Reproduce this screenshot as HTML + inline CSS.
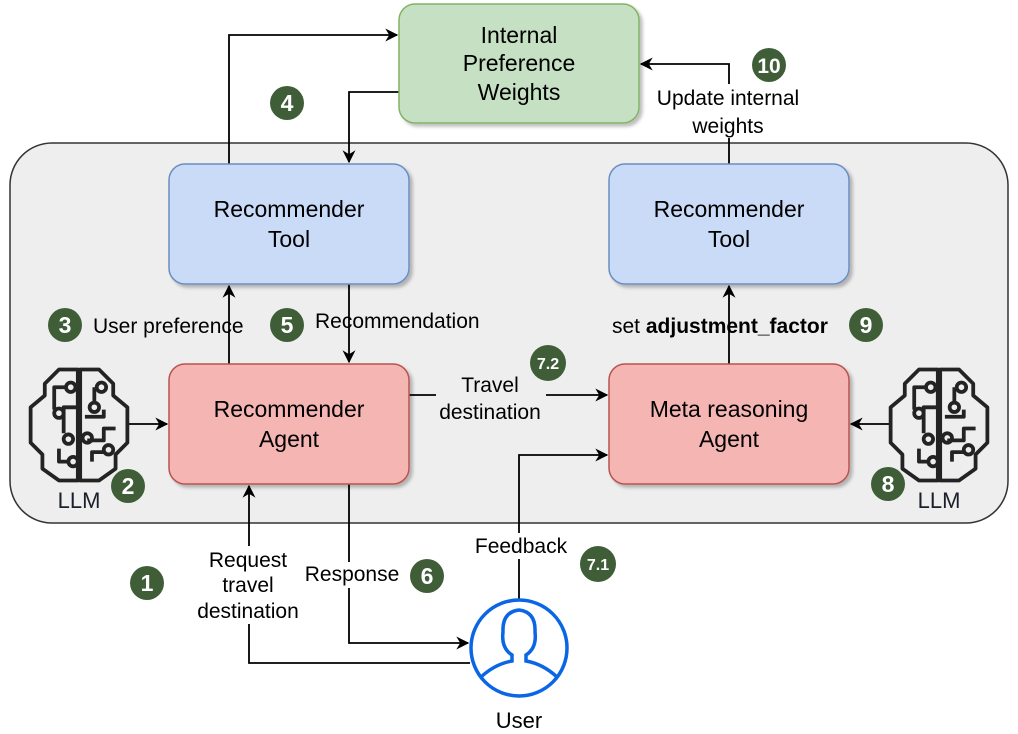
<!DOCTYPE html>
<html><head><meta charset="utf-8"><style>
html,body{margin:0;padding:0;background:#fff;}
svg{display:block;font-family:"Liberation Sans",Arial,sans-serif;}
</style></head><body>
<svg width="1018" height="734" viewBox="0 0 1018 734" xmlns="http://www.w3.org/2000/svg">
<defs>
<marker id="a" viewBox="0 0 10 10" refX="9" refY="5" markerWidth="15" markerHeight="13" markerUnits="userSpaceOnUse" orient="auto">
<path d="M0,0 L10,5 L0,10 L3,5 Z" fill="#000"/></marker>
<filter id="s" x="-10%" y="-10%" width="130%" height="130%"><feDropShadow dx="3" dy="3" stdDeviation="1.5" flood-color="#000" flood-opacity="0.25"/></filter>
</defs>
<rect x="10" y="143" width="998" height="380" rx="42" fill="#eeeeee" stroke="#333" stroke-width="1.5"/>
<g stroke="#000" stroke-width="1.8" fill="none">
<path d="M229,164 V35 H397" marker-end="url(#a)"/>
<path d="M399,92 H349 V162" marker-end="url(#a)"/>
<path d="M229,364 V286" marker-end="url(#a)"/>
<path d="M349,284 V362" marker-end="url(#a)"/>
<path d="M409,395 H607" marker-end="url(#a)"/>
<path d="M519,600 V455 H607" marker-end="url(#a)"/>
<path d="M729,364 V286" marker-end="url(#a)"/>
<path d="M729,164 V64 H641" marker-end="url(#a)"/>
<path d="M128,424 H167" marker-end="url(#a)"/>
<path d="M890,424 H851" marker-end="url(#a)"/>
<path d="M349,484 V643 H468" marker-end="url(#a)"/>
<path d="M470,663 H249 V486" marker-end="url(#a)"/>
</g>
<g filter="url(#s)" stroke-width="1.5">
<rect x="399" y="4" width="240" height="119" rx="16" fill="#c5e0c2" stroke="#82b366"/>
<rect x="169" y="164" width="240" height="120" rx="16" fill="#c9dbf7" stroke="#6c8ebf"/>
<rect x="609" y="164" width="240" height="120" rx="16" fill="#c9dbf7" stroke="#6c8ebf"/>
<rect x="169" y="364" width="240" height="120" rx="16" fill="#f4b5b3" stroke="#b85450"/>
<rect x="609" y="364" width="240" height="120" rx="16" fill="#f4b5b3" stroke="#b85450"/>
</g>
<g font-size="23" text-anchor="middle" fill="#000">
<text x="519" y="43">Internal</text><text x="519" y="71">Preference</text><text x="519" y="100">Weights</text>
<text x="289" y="217">Recommender</text><text x="289" y="247">Tool</text>
<text x="729" y="217">Recommender</text><text x="729" y="247">Tool</text>
<text x="289" y="417">Recommender</text><text x="289" y="447">Agent</text>
<text x="729" y="417">Meta reasoning</text><text x="729" y="447">Agent</text>
</g>
<g font-size="21" fill="#000">
<rect x="436" y="372" width="110" height="52" fill="#eeeeee"/>
<text x="490" y="392" text-anchor="middle">Travel</text>
<text x="490" y="419" text-anchor="middle">destination</text>
<text x="93" y="333">User preference</text>
<text x="315" y="328">Recommendation</text>
<text x="612" y="333">set <tspan font-weight="bold">adjustment_factor</tspan></text>
<rect x="648" y="84" width="162" height="54" fill="#fff"/>
<text x="728" y="105" text-anchor="middle">Update internal</text>
<text x="728" y="133" text-anchor="middle">weights</text>
<rect x="470" y="533" width="102" height="26" fill="#fff"/>
<text x="521" y="553" text-anchor="middle">Feedback</text>
<rect x="190" y="546" width="118" height="78" fill="#fff"/>
<text x="248" y="567" text-anchor="middle">Request</text>
<text x="248" y="592" text-anchor="middle">travel</text>
<text x="248" y="618" text-anchor="middle">destination</text>
<rect x="300" y="562" width="104" height="26" fill="#fff"/>
<text x="352" y="581" text-anchor="middle">Response</text>
<text x="79" y="508" text-anchor="middle" font-size="22" fill="#1a1f2b">LLM</text>
<text x="939" y="508" text-anchor="middle" font-size="22" fill="#1a1f2b">LLM</text>
<text x="519" y="728" text-anchor="middle" font-size="22">User</text>
</g>
<g fill="#3f5e38">
<circle cx="287" cy="103" r="17"/><circle cx="769" cy="65" r="17"/><circle cx="65" cy="325" r="17"/>
<circle cx="287" cy="325" r="17"/><circle cx="866" cy="325" r="17"/><circle cx="548" cy="363" r="18"/>
<circle cx="128" cy="486" r="17"/><circle cx="888" cy="484" r="17"/><circle cx="147" cy="583" r="17"/>
<circle cx="427" cy="576" r="17"/><circle cx="598" cy="564" r="18"/>
</g>
<g fill="#fff" font-weight="bold" font-size="23" text-anchor="middle">
<text x="287" y="111">4</text><text x="769" y="73" font-size="21">10</text><text x="65" y="333">3</text>
<text x="287" y="333">5</text><text x="866" y="333">9</text><text x="548" y="369" font-size="16">7.2</text>
<text x="128" y="494">2</text><text x="888" y="492">8</text><text x="147" y="591">1</text>
<text x="427" y="584">6</text><text x="598" y="570" font-size="16">7.1</text>
</g>
<g id="br" transform="translate(79,425) scale(1.18) translate(-79,-425)">
<g fill="none" stroke="#232323" stroke-width="3.2" stroke-linejoin="round">
<path d="M78,378 H62 L50,390 V400 L38,410 V440 L48,450 V462 L62,472 H78 Z"/>
<path d="M80,378 H96 L108,390 V400 L120,410 V440 L110,450 V462 L96,472 H80 Z"/>
<path d="M68,393 H58 V412 M78,395 V410 H66 V432 M62,445 V456 H70 M92,393 V406 M84,418 H100 V412 M86,438 H100 V428 H110 M90,456 V448 H100"/>
<circle cx="62" cy="415" r="4"/><circle cx="72" cy="393" r="4"/><circle cx="70" cy="437" r="4"/><circle cx="74" cy="456" r="4"/>
<circle cx="98" cy="393" r="4"/><circle cx="92" cy="410" r="4"/><circle cx="86" cy="436" r="4"/><circle cx="104" cy="446" r="4"/>
</g></g>
<use href="#br" transform="translate(860,0)"/>
<g fill="none" stroke="#0a66e4" stroke-width="3.5">
<circle cx="519" cy="648" r="48"/>
<path d="M481,677 Q495,664 512,661 V655 Q501,648 503,632 Q502,612 519,610 Q536,612 535,632 Q537,648 526,655 V661 Q543,664 557,677"/>
</g>
</svg>
</body></html>
